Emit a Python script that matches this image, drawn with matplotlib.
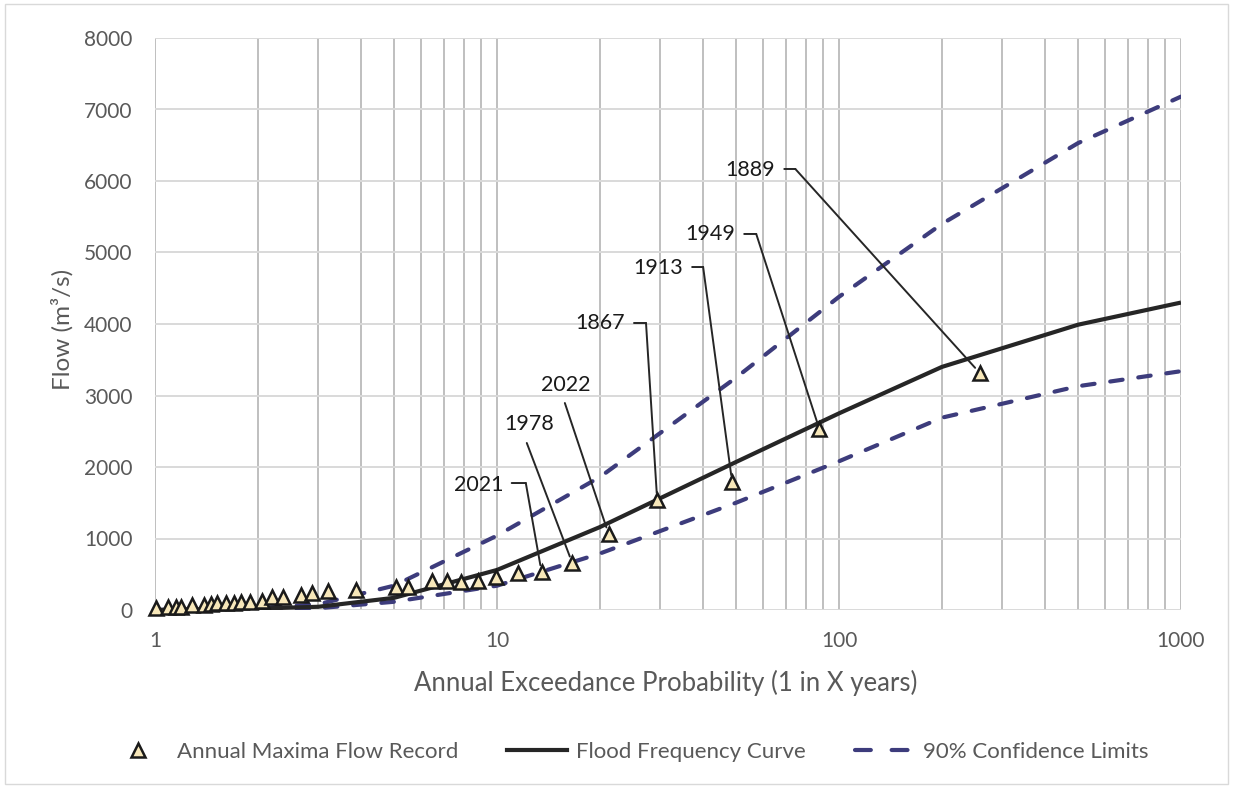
import matplotlib
matplotlib.use("Agg")
import matplotlib.pyplot as plt
from matplotlib.lines import Line2D
from matplotlib.patches import Rectangle
from matplotlib.ticker import LogLocator, FixedLocator, NullFormatter

plt.rcParams['font.family'] = ['Lato', 'DejaVu Sans']

# ---------------- data ----------------
# Annual maxima record: return period (1 in X years) and flow (m3/s)
obs_T = [1.01, 1.09, 1.15, 1.19, 1.28, 1.39, 1.46, 1.52, 1.61, 1.70, 1.79, 1.89,
         2.05, 2.20, 2.37, 2.68, 2.88, 3.21, 3.86, 5.05, 5.51, 6.44, 7.12, 7.83,
         8.78, 9.91, 11.5, 13.5, 16.6, 21.2, 29.4, 48.7, 87.6, 258]
obs_Q = [28, 42, 42, 42, 70, 70, 84, 98, 98, 98, 112, 112,
         126, 182, 182, 210, 238, 266, 280, 322, 322, 405, 405, 392,
         405, 462, 517, 531, 657, 1063, 1538, 1790, 2531, 3315]

# Flood frequency curve and 90% confidence limits
curve_T = [1, 2, 3, 5, 10, 20, 50, 100, 200, 500, 1000]
ffc_Q = [0, 20, 45, 170, 560, 1160, 2070, 2750, 3400, 3990, 4300]
upper_Q = [0, 25, 80, 340, 1040, 1860, 3250, 4380, 5400, 6530, 7180]
lower_Q = [0, 3, 25, 115, 340, 790, 1500, 2080, 2690, 3130, 3340]

# Labelled events (year -> index into observation arrays)
label_years = ['2021', '1978', '2022', '1867', '1913', '1949', '1889']
label_index = [27, 28, 29, 30, 31, 32, 33]

x_ticks = [1, 10, 100, 1000]
x_ticklabels = ['1', '10', '100', '1000']
y_ticks = [0, 1000, 2000, 3000, 4000, 5000, 6000, 7000, 8000]

# ---------------- layout ----------------
W, H = 1233, 787
fig = plt.figure(figsize=(W / 100, H / 100), dpi=100)
L, R, T_, B = 155, 1181, 38, 610
ax = fig.add_axes([L / W, 1 - B / H, (R - L) / W, (B - T_) / H])

txt_grey = '#595959'
navy = '#3d3c7c'
blk = '#262626'

ax.set_xscale('log')
ax.set_xlim(1, 1000)
ax.set_ylim(0, 8000)
ax.xaxis.set_major_locator(FixedLocator(x_ticks))
ax.set_xticklabels(x_ticklabels)
ax.xaxis.set_minor_locator(LogLocator(base=10, subs=[2, 3, 4, 5, 6, 7, 8, 9]))
ax.xaxis.set_minor_formatter(NullFormatter())
ax.set_yticks(y_ticks)
ax.set_yticklabels([str(v) for v in y_ticks])

ax.grid(which='both', axis='x', color='#bfbfbf', lw=1.4)
ax.grid(which='major', axis='y', color='#d9d9d9', lw=1.4)
ax.set_axisbelow(True)
for s in ax.spines.values():
    s.set_visible(False)
ax.tick_params(which='both', length=0, labelsize=15, labelcolor=txt_grey)
ax.tick_params(axis='x', pad=15)
ax.tick_params(axis='y', pad=16)

xl = ax.set_xlabel('Annual Exceedance Probability (1 in X years)', fontsize=18.5,
                   color=txt_grey)
xl.set_va('center')
ax.xaxis.set_label_coords(0.4976, (B - 683) / (B - T_))
yl = ax.set_ylabel('Flow (m\u00b3/s)', fontsize=17.5, color=txt_grey)
yl.set_va('center')
ax.yaxis.set_label_coords((62 - L) / (R - L), 0.49)

# ---------------- series ----------------
dash_kw = dict(color=navy, lw=3.0, dashes=(3.0, 3.8), dash_capstyle='round')
ax.plot(curve_T, upper_Q, zorder=3, **dash_kw)
ax.plot(curve_T, lower_Q, zorder=3, **dash_kw)
ax.plot(curve_T, ffc_Q, color=blk, lw=3.0, zorder=4, solid_capstyle='butt')
ax.plot(obs_T, obs_Q, ls='none', marker='^', ms=10, mfc='#f7e7b9',
        mec='#1a1a1a', mew=1.8, zorder=5, clip_on=False)

# ---------------- annotations ----------------
# text anchor (T, Q), horizontal alignment, leader start, leader elbow
label_layout = {
    '2021': ((10.46, 1750), 'right', (11.04, 1776), (12.14, 1776)),
    '1978': ((12.39, 2600), 'center', None, (12.22, 2336)),
    '2022': ((15.90, 3140), 'center', None, (15.79, 2895)),
    '1867': ((23.67, 4014), 'right', (25.15, 4014), (27.27, 4014)),
    '1913': ((35.00, 4790), 'right', (37.20, 4797), (40.06, 4797)),
    '1949': ((49.71, 5259), 'right', (52.82, 5259), (57.28, 5259)),
    '1889': ((65.11, 6160), 'right', (69.18, 6168), (74.53, 6168)),
}
for yr, idx in zip(label_years, label_index):
    (tx, ty), ha, start, elbow = label_layout[yr]
    ax.text(tx, ty, yr, ha=ha, va='center', fontsize=15.5, color='#1a1a1a', zorder=7)
    if start is not None:
        ax.annotate('', xy=elbow, xytext=start,
                    arrowprops=dict(arrowstyle='-', color=blk, lw=1.4,
                                    shrinkA=0, shrinkB=0), zorder=6)
    ax.annotate('', xy=(obs_T[idx], obs_Q[idx]), xytext=elbow,
                arrowprops=dict(arrowstyle='-', color=blk, lw=1.4,
                                shrinkA=0, shrinkB=5), zorder=6)

# ---------------- legend ----------------
handles = [
    Line2D([], [], ls='none', marker='^', ms=10, mfc='#f7e7b9', mec='#1a1a1a', mew=1.8),
    Line2D([], [], color=blk, lw=3.0),
    Line2D([], [], color=navy, lw=3.0, dashes=(3.8, 5.0), dash_capstyle='round'),
]
labels = ['Annual Maxima Flow Record', 'Flood Frequency Curve', '90% Confidence Limits']
leg = fig.legend(handles, labels, loc='center', bbox_to_anchor=(0.5097, 1 - 752 / H),
                 ncol=3, frameon=False, fontsize=16, handlelength=2.7,
                 handletextpad=0.4, columnspacing=2.2)
for t in leg.get_texts():
    t.set_color(txt_grey)

# chart border
fig.patches.append(Rectangle((5 / W, 3 / H), (1228 - 5) / W, (783 - 3) / H,
                             transform=fig.transFigure, fill=False,
                             edgecolor='#d9d9d9', lw=1.0))

fig.savefig('out.png', dpi=100)
